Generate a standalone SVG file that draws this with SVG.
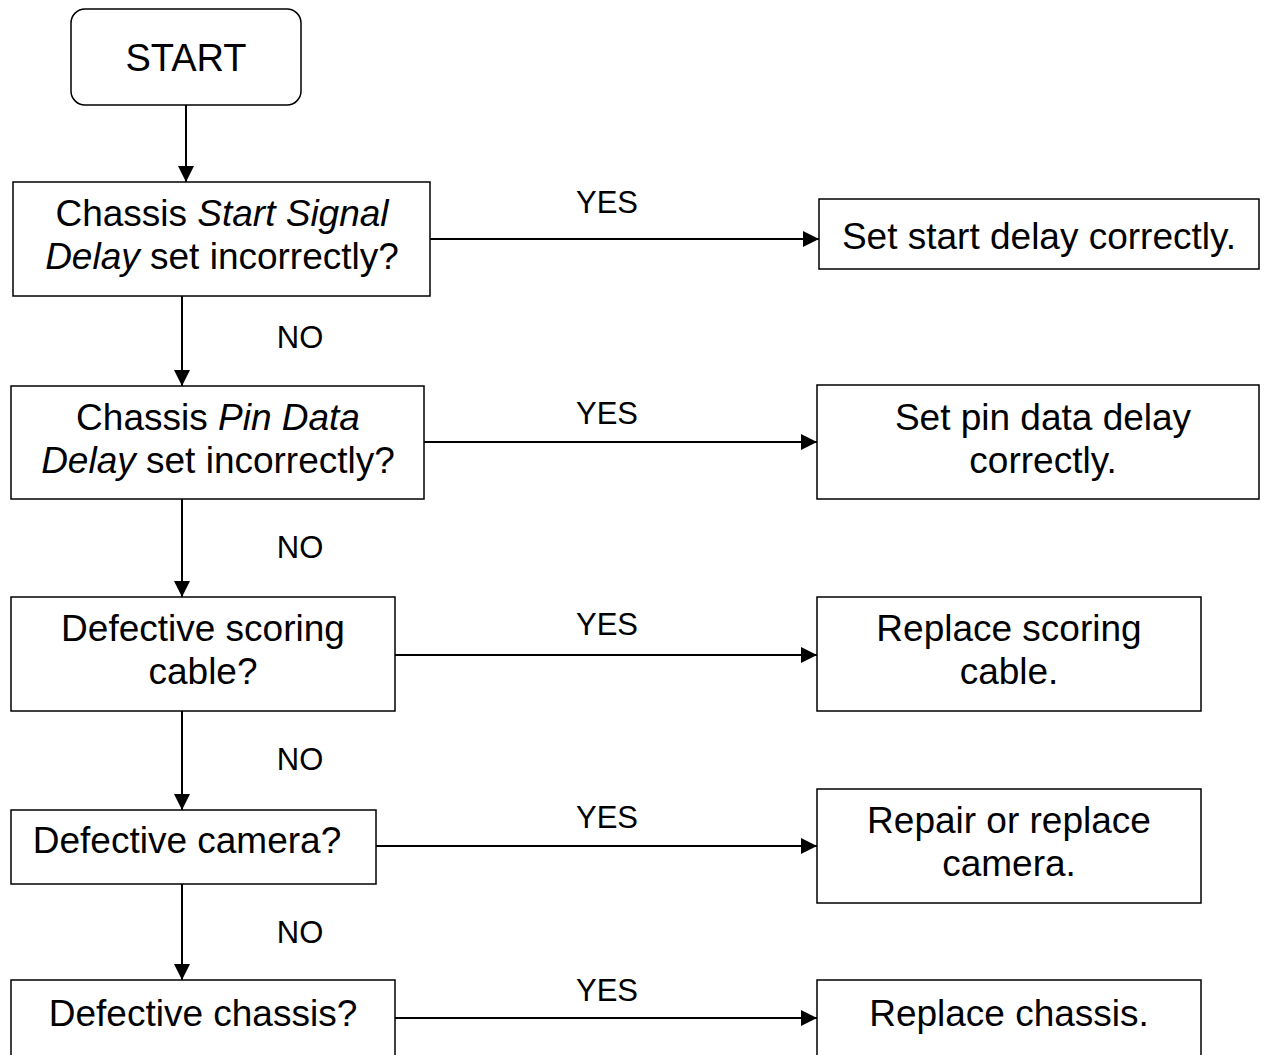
<svg xmlns="http://www.w3.org/2000/svg" width="1270" height="1055" viewBox="0 0 1270 1055">
<style>
.box{fill:#fff;stroke:#000;stroke-width:1.5}
.t{font-family:"Liberation Sans",Arial,sans-serif;font-size:37px;fill:#000;text-anchor:middle}
.lbl{font-family:"Liberation Sans",Arial,sans-serif;font-size:31px;fill:#000;text-anchor:middle}
.c{stroke:#000;stroke-width:2;fill:none;marker-end:url(#ah)}
</style>
<defs>
<marker id="ah" viewBox="0 0 16 16" refX="16" refY="8" markerWidth="16" markerHeight="16" markerUnits="userSpaceOnUse" orient="auto">
<path d="M0,0 L16,8 L0,16 Z" fill="#000"/>
</marker>
</defs>
<rect width="1270" height="1055" fill="#fff"/>
<g id="connectors">
<line class="c" x1="186" y1="105" x2="186" y2="182"/>
<line class="c" x1="182" y1="296" x2="182" y2="386"/>
<line class="c" x1="182" y1="499" x2="182" y2="597"/>
<line class="c" x1="182" y1="711" x2="182" y2="810"/>
<line class="c" x1="182" y1="884" x2="182" y2="980"/>
<line class="c" x1="430" y1="239" x2="819" y2="239"/>
<line class="c" x1="424" y1="442" x2="817" y2="442"/>
<line class="c" x1="395" y1="655" x2="817" y2="655"/>
<line class="c" x1="376" y1="846" x2="817" y2="846"/>
<line class="c" x1="395" y1="1018" x2="817" y2="1018"/>
<text class="lbl" x="607" y="213">YES</text>
<text class="lbl" x="607" y="424">YES</text>
<text class="lbl" x="607" y="635">YES</text>
<text class="lbl" x="607" y="828">YES</text>
<text class="lbl" x="607" y="1001">YES</text>
<text class="lbl" x="300" y="348">NO</text>
<text class="lbl" x="300" y="558">NO</text>
<text class="lbl" x="300" y="770">NO</text>
<text class="lbl" x="300" y="943">NO</text>
</g>
<g id="start">
<rect class="box" x="71" y="9" width="230" height="96" rx="14"/>
<text class="t" x="186" y="71" style="font-size:38px">START</text>
</g>
<g id="q1">
<rect class="box" x="13" y="182" width="417" height="114"/>
<text class="t" x="222" y="226">Chassis <tspan font-style="italic">Start Signal</tspan></text>
<text class="t" x="222" y="269"><tspan font-style="italic">Delay</tspan> set incorrectly?</text>
</g>
<g id="a1">
<rect class="box" x="819" y="199" width="440" height="70"/>
<text class="t" x="1039" y="249">Set start delay correctly.</text>
</g>
<g id="q2">
<rect class="box" x="11" y="386" width="413" height="113"/>
<text class="t" x="218" y="430">Chassis <tspan font-style="italic">Pin Data</tspan></text>
<text class="t" x="218" y="473"><tspan font-style="italic">Delay</tspan> set incorrectly?</text>
</g>
<g id="a2">
<rect class="box" x="817" y="385" width="442" height="114"/>
<text class="t" x="1043" y="430">Set pin data delay</text>
<text class="t" x="1043" y="473">correctly.</text>
</g>
<g id="q3">
<rect class="box" x="11" y="597" width="384" height="114"/>
<text class="t" x="203" y="641">Defective scoring</text>
<text class="t" x="203" y="684">cable?</text>
</g>
<g id="a3">
<rect class="box" x="817" y="597" width="384" height="114"/>
<text class="t" x="1009" y="641">Replace scoring</text>
<text class="t" x="1009" y="684">cable.</text>
</g>
<g id="q4">
<rect class="box" x="11" y="810" width="365" height="74"/>
<text class="t" x="187" y="853">Defective camera?</text>
</g>
<g id="a4">
<rect class="box" x="817" y="789" width="384" height="114"/>
<text class="t" x="1009" y="833">Repair or replace</text>
<text class="t" x="1009" y="876">camera.</text>
</g>
<g id="q5">
<rect class="box" x="11" y="980" width="384" height="114"/>
<text class="t" x="203" y="1026">Defective chassis?</text>
</g>
<g id="a5">
<rect class="box" x="817" y="980" width="384" height="114"/>
<text class="t" x="1009" y="1026">Replace chassis.</text>
</g>
</svg>
